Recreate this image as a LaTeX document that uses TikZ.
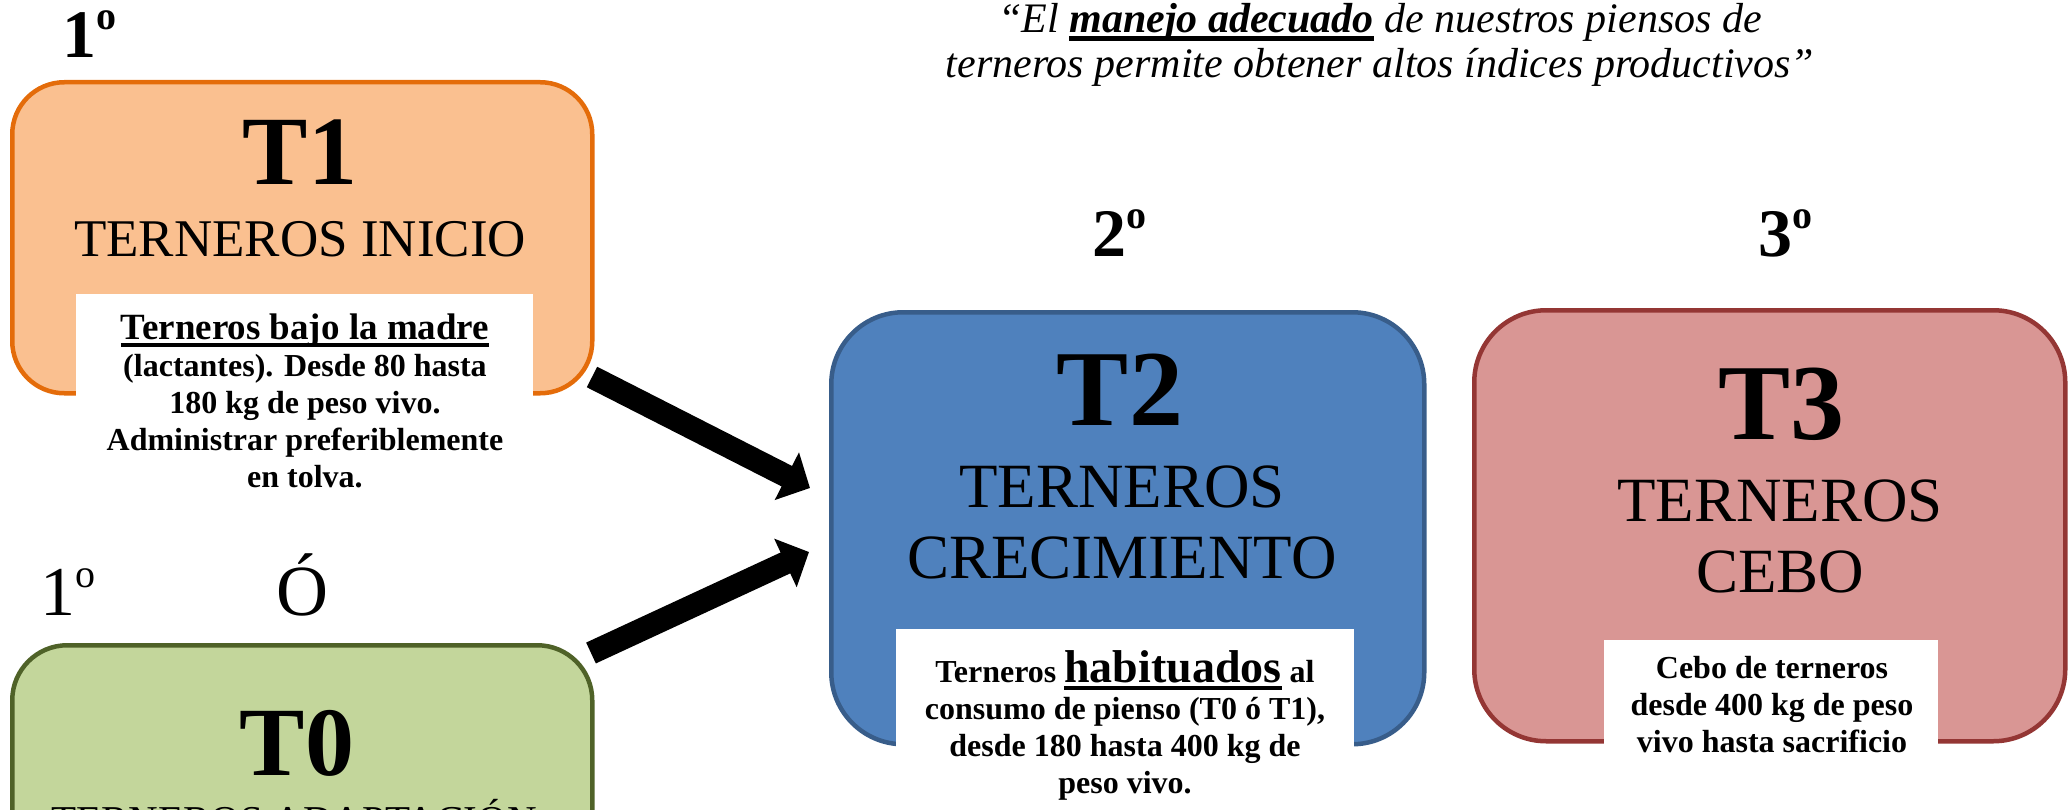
\documentclass[tikz,border=0pt]{standalone}
\usepackage{fontspec}
\setmainfont{Liberation Serif}
\usetikzlibrary{arrows.meta,positioning}

\definecolor{inicioFill}{HTML}{FAC090}
\definecolor{inicioLine}{HTML}{E46C0A}
\definecolor{adaptFill}{HTML}{C3D69B}
\definecolor{adaptLine}{HTML}{4F6228}
\definecolor{crecFill}{HTML}{4F81BD}
\definecolor{crecLine}{HTML}{385D8A}
\definecolor{ceboFill}{HTML}{D99694}
\definecolor{ceboLine}{HTML}{943634}

\newcommand{\fsize}[2]{\fontsize{#1}{#2}\selectfont}
\newcommand{\rayado}[1]{\leavevmode\setbox0=\hbox{#1}\rlap{\rule[-8pt]{\wd0}{4.5pt}}\box0}
\newcommand{\ordinal}[1]{#1{\fsize{40}{40}\raisebox{28pt}{o}}}

\begin{document}
\begin{tikzpicture}[x=1pt,y=-1pt,
    caja/.style={draw,line width=4.5pt,anchor=north west,inner sep=0pt},
    blanco/.style={fill=white,anchor=north west,inner sep=0pt},
    nivel/.style={font=\bfseries\fsize{68}{68},anchor=base},
    titulo/.style={font=\bfseries\fsize{108}{108},anchor=base},
    nombre/.style={font=\fsize{63}{71},align=center,anchor=base},
    texto/.style={font=\bfseries\fsize{32}{37},align=center,anchor=base},
    flecha/.style={-{Triangle[length=26pt,width=52pt]},line width=23pt}]
    \useasboundingbox (0,0) rectangle (2071,810);

    % T1 (anchor base = ultima linea)
    \node[caja,fill=inicioFill,draw=inicioLine,rounded corners=52pt,minimum width=580pt,minimum height=311pt] (t1) at (10,80) {};
    \node[blanco,minimum width=457pt,minimum height=215pt] (t1w) at (76,294) {};
    \node[titulo,font=\bfseries\fsize{98}{98}] (t1n) at (300,185) {T1};
    \node[nombre,font=\fsize{53}{60}] (t1l) at (300,257) {TERNEROS INICIO};
    \node[texto] (t1d) at (305,487) {{\fsize{37}{37}\rayado{Terneros bajo la madre}}\\(lactantes). Desde 80 hasta\\180 kg de peso vivo.\\Administrar preferiblemente\\en tolva.};

    % T0
    \node[caja,fill=adaptFill,draw=adaptLine,rounded corners=55pt,minimum width=580pt,minimum height=400pt] (t0) at (10,643) {};
    \node[titulo,font=\bfseries\fsize{98}{98}] (t0n) at (297,775) {T0};
    \node[nombre,font=\fsize{41}{48}] (t0l) at (294,834) {TERNEROS ADAPTACIÓN};

    % T2
    \node[caja,fill=crecFill,draw=crecLine,rounded corners=72pt,minimum width=593pt,minimum height=432pt] (t2) at (829,310) {};
    \node[blanco,minimum width=458pt,minimum height=181pt] (t2w) at (896,629) {};
    \node[titulo] (t2n) at (1120,425) {T2};
    \node[nombre] (t2l) at (1122,578) {TERNEROS\\CRECIMIENTO};
    \node[texto] (t2d) at (1125,793) {Terneros {\fsize{46}{37}\rayado{habituados}} al\\consumo de pienso (T0 ó T1),\\desde 180 hasta 400 kg de\\peso vivo.};

    % T3
    \node[caja,fill=ceboFill,draw=ceboLine,rounded corners=72pt,minimum width=591pt,minimum height=431pt] (t3) at (1472,308) {};
    \node[blanco,minimum width=334pt,minimum height=135pt] (t3w) at (1604,640) {};
    \node[titulo] (t3n) at (1781,439) {T3};
    \node[nombre] (t3l) at (1780,592) {TERNEROS\\CEBO};
    \node[texto] (t3d) at (1772,752) {Cebo de terneros\\desde 400 kg de peso\\vivo hasta sacrificio};

    % orden
    \node[nivel] (o1) at (89,58) {\ordinal{1}};
    \node[nivel] (o2) at (1119,257) {\ordinal{2}};
    \node[nivel] (o3) at (1785,257) {\ordinal{3}};
    \node[nivel,font=\fsize{70}{70}] (o1b) at (68,615) {\ordinal{1}};
    \node[anchor=base,font=\fsize{72}{72}] (oo) at (302,615) {Ó};

    \node[anchor=base,align=center,font=\itshape\fsize{42}{45}] (lema) at (1380,78) {“El {\bfseries\rayado{manejo adecuado}} de nuestros piensos de\\terneros permite obtener altos índices productivos”};

    % flechas
    \coordinate (a1) at (592,377);
    \coordinate (b1) at (810,488);
    \coordinate (a0) at (591,653);
    \coordinate (b0) at (809,552);
    \draw[flecha] (a1) -- (b1);
    \draw[flecha] (a0) -- (b0);
\end{tikzpicture}
\end{document}
